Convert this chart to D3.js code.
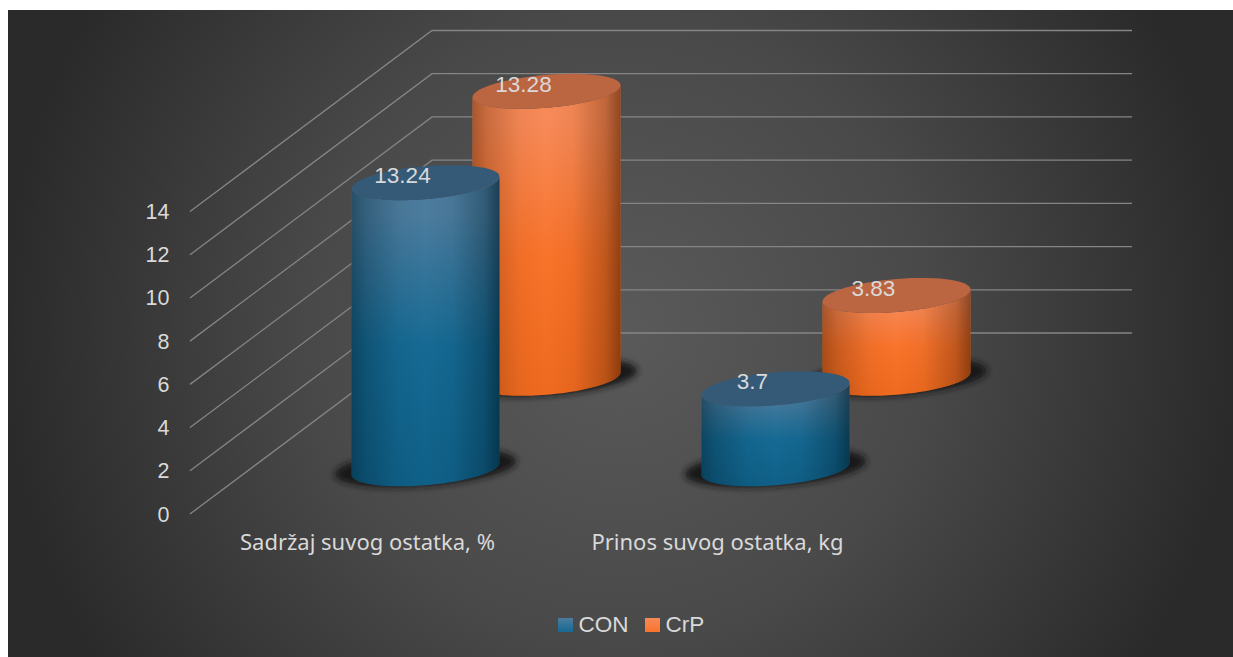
<!DOCTYPE html>
<html>
<head>
<meta charset="utf-8">
<style>
  html, body { margin: 0; padding: 0; background: #fff; }
  svg { display: block; }
  .tick-label, .value-label, .legend-label { font-family: "Liberation Sans", Arial, sans-serif; fill: #d9d9d9; }
  .cat-label { font-family: "Noto Sans", sans-serif; fill: #d9d9d9; }
</style>
</head>
<body>
<svg id="chart" width="1233" height="657"></svg>
<script src="https://cdn.jsdelivr.net/npm/d3@7/dist/d3.min.js"></script>
<script>
// Dry-matter results per treatment
const categories = ["Sadržaj suvog ostatka, %", "Prinos suvog ostatka, kg"];
const seriesNames = ["CON", "CrP"];
const conValues = [13.24, 3.7];
const crpValues = [13.28, 3.83];
const valueTicks = [0, 2, 4, 6, 8, 10, 12, 14];

const W = 1233, H = 657;
const svg = d3.select("#chart");
const defs = svg.append("defs");

// Oblique projection: front floor edge, and the shift applied going to the back wall
const floorFrontY = 514;
const depthShift = { x: 242, y: -181 };
const xScale = d3.scaleBand().domain(categories).range([190, 890]);
const depthScale = d3.scalePoint().domain(seriesNames).range([0, 1]).padding(0.5);
const heightScale = d3.scaleLinear().domain([0, 14]).range([0, 302.5]);

const radiusX = 74, radiusY = 16.5, skew = 6;

const palette = {
  CON: { light: "#4c7c9e", mid: "#156a94", low: "#0f6088", top: "#345a78", edge: "#02202f" },
  CrP: { light: "#f88a58", mid: "#f9732a", low: "#ef6a1f", top: "#bc6541", edge: "#5a2405" }
};

// Backdrop
const bg = defs.append("radialGradient").attr("id", "bg")
  .attr("gradientUnits", "userSpaceOnUse")
  .attr("cx", 620).attr("cy", 330).attr("r", 620);
[[0, "#5a5a5a"], [0.5, "#494949"], [1, "#2a2a2a"]].forEach(([o, c]) =>
  bg.append("stop").attr("offset", o).attr("stop-color", c));
svg.append("rect").attr("x", 8).attr("y", 10).attr("width", W - 8).attr("height", H - 10).attr("fill", "url(#bg)");

// Per-series side gradients
seriesNames.forEach(name => {
  const p = palette[name];
  const v = defs.append("linearGradient").attr("id", "side-" + name)
    .attr("x1", 0).attr("y1", 0).attr("x2", 0).attr("y2", 1);
  [[0, p.light], [0.12, p.light], [0.55, p.mid], [1, p.low]].forEach(([o, c]) =>
    v.append("stop").attr("offset", o).attr("stop-color", c));
  const h = defs.append("linearGradient").attr("id", "shade-" + name)
    .attr("x1", 0).attr("y1", 0).attr("x2", 1).attr("y2", 0);
  [[0, 0.5], [0.1, 0.3], [0.32, 0.06], [0.5, 0], [0.68, 0.06], [0.9, 0.36], [1, 0.66]].forEach(([o, a]) =>
    h.append("stop").attr("offset", o).attr("stop-color", p.edge).attr("stop-opacity", a));
  const s = defs.append("linearGradient").attr("id", "swatch-" + name)
    .attr("x1", 0).attr("y1", 0).attr("x2", 0).attr("y2", 1);
  [[0, p.light], [1, p.mid]].forEach(([o, c]) =>
    s.append("stop").attr("offset", o).attr("stop-color", c));
});

defs.append("filter").attr("id", "soft")
  .attr("x", "-20%").attr("y", "-40%").attr("width", "140%").attr("height", "180%")
  .append("feGaussianBlur").attr("stdDeviation", 3);

// Gridlines: up the side wall, then across the back wall
const grid = svg.append("g").attr("fill", "none").attr("stroke", "#858585").attr("stroke-width", 1.3);
const gridLine = d3.line();
grid.selectAll("path").data(valueTicks).join("path").attr("d", t => {
  const y = floorFrontY - heightScale(t);
  const [x0, x1] = xScale.range();
  return gridLine([[x0, y], [x0 + depthShift.x, y + depthShift.y], [x1 + depthShift.x, y + depthShift.y]]);
});

// Value axis labels
svg.append("g").selectAll("text").data(valueTicks).join("text")
  .attr("class", "tick-label")
  .attr("x", 169.5).attr("y", t => floorFrontY - heightScale(t) + 7.5)
  .attr("text-anchor", "end").attr("font-size", 21.5)
  .text(t => t);

// Cylinder outlines, from a sheared ellipse
function rim(cx, cy, a0, a1, sx = 1, sy = 1) {
  return d3.range(0, 61).map(i => {
    const t = a0 + (a1 - a0) * i / 60;
    return [cx + radiusX * sx * Math.cos(t), cy + radiusY * sy * Math.sin(t) - skew * sy * Math.cos(t)];
  });
}
const outline = d3.line();

const rows = seriesNames.map((name, s) => ({
  name,
  values: s === 0 ? conValues : crpValues
}));

// Back row first so that the front row covers it
[...rows].reverse().forEach(row => {
  const d = depthScale(row.name);
  const g = svg.append("g").attr("class", "series-" + row.name);
  const items = categories.map((c, i) => {
    const baseX = xScale(c) + xScale.bandwidth() / 2 + d * depthShift.x;
    const baseY = floorFrontY + d * depthShift.y;
    return { value: row.values[i], cx: baseX, baseY, topY: baseY - heightScale(row.values[i]) };
  });

  items.forEach(it => {
    // Contact shadow
    g.append("path")
      .attr("d", outline(rim(it.cx, it.baseY - 1, 0, 2 * Math.PI, 1.23, 1.12)) + "Z")
      .attr("fill", "#141414").attr("opacity", 0.95).attr("filter", "url(#soft)");
    const sidePts = rim(it.cx, it.topY, Math.PI, 0)
      .concat(rim(it.cx, it.baseY, 0, Math.PI));
    const side = outline(sidePts) + "Z";
    g.append("path").attr("d", side).attr("fill", `url(#side-${row.name})`);
    g.append("path").attr("d", side).attr("fill", `url(#shade-${row.name})`);
    g.append("path")
      .attr("d", outline(rim(it.cx, it.topY, 0, 2 * Math.PI)) + "Z")
      .attr("fill", palette[row.name].top);
    g.append("text").attr("class", "value-label")
      .attr("x", it.cx - 23).attr("y", it.topY + 0.5)
      .attr("text-anchor", "middle").attr("font-size", 22.5)
      .text(it.value);
  });
});

// Category labels
svg.append("g").selectAll("text").data(categories).join("text")
  .attr("class", "cat-label")
  .attr("x", c => xScale(c) + xScale.bandwidth() / 2 + 2.5)
  .attr("y", 550).attr("text-anchor", "middle").attr("font-size", 22)
  .text(c => c);

// Legend
const legendX = d3.scaleOrdinal().domain(seriesNames).range([558, 645]);
const legend = svg.append("g");
seriesNames.forEach(name => {
  legend.append("rect").attr("x", legendX(name)).attr("y", 618).attr("width", 15).attr("height", 14)
    .attr("fill", `url(#swatch-${name})`);
  legend.append("text").attr("class", "legend-label")
    .attr("x", legendX(name) + 20.5).attr("y", 632).attr("font-size", 22.5)
    .text(name);
});
</script>
</body>
</html>
